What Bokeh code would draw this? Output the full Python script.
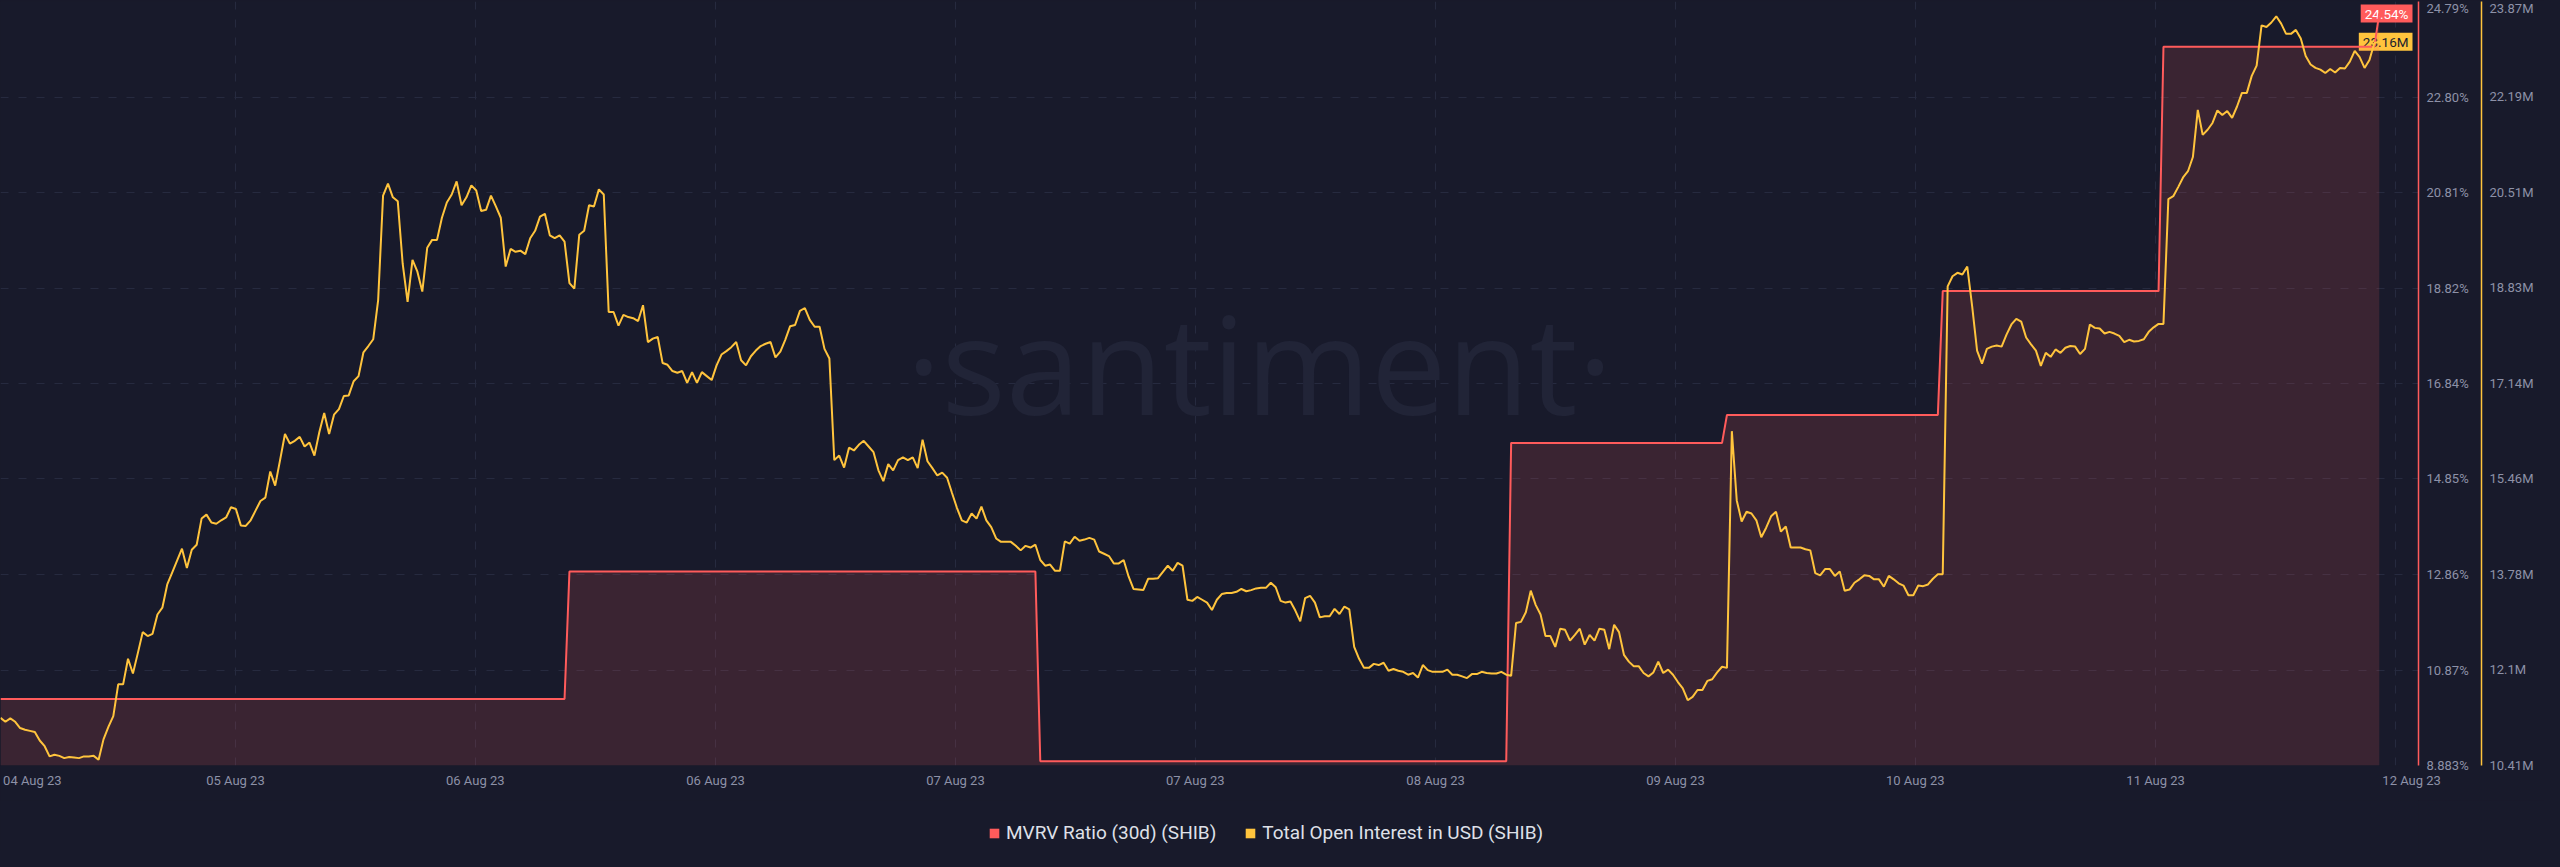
import math
from bokeh.plotting import figure
from bokeh.layouts import column
from bokeh.models import Range1d, LinearAxis, FixedTicker, Legend, LegendItem, Label
from bokeh.embed import file_html
from bokeh.resources import INLINE

BG = "#181a2b"
RED = "#ff5b5b"
YEL = "#ffc43d"
GRID = "#262a3f"
TICK_TXT = "#8d91a7"
FONT = "Roboto"

# ---------------- data ----------------
date_labels = ["04 Aug 23", "05 Aug 23", "06 Aug 23", "06 Aug 23", "07 Aug 23", "07 Aug 23",
               "08 Aug 23", "09 Aug 23", "10 Aug 23", "11 Aug 23", "12 Aug 23"]
date_label_pos = [6.5, 47.9, 96.8, 145.8, 194.7, 243.6, 292.6, 341.5, 390.4, 439.4, 491.6]
day_grid_pos = [47.9, 96.8, 145.8, 194.7, 243.6, 292.6, 341.5, 390.4, 439.4, 488.3]

# Total Open Interest in USD (SHIB), millions, one value per sample
oi_values = [
    11.25, 11.18, 11.24, 11.18, 11.07, 11.04, 11.02, 11.00, 10.85, 10.75,
    10.57, 10.60, 10.58, 10.54, 10.56, 10.55, 10.54, 10.57, 10.57, 10.58,
    10.51, 10.87, 11.09, 11.28, 11.84, 11.84, 12.29, 12.03, 12.39, 12.76,
    12.69, 12.73, 13.07, 13.19, 13.60, 13.81, 14.02, 14.23, 13.89, 14.21,
    14.30, 14.76, 14.83, 14.69, 14.67, 14.73, 14.78, 14.96, 14.93, 14.64,
    14.63, 14.73, 14.90, 15.07, 15.13, 15.59, 15.34, 15.79, 16.25, 16.08,
    16.13, 16.20, 16.03, 16.10, 15.87, 16.28, 16.62, 16.25, 16.59, 16.69,
    16.92, 16.93, 17.18, 17.27, 17.69, 17.80, 17.92, 18.61, 20.45, 20.66,
    20.42, 20.35, 19.25, 18.58, 19.32, 19.11, 18.76, 19.53, 19.67, 19.67,
    20.06, 20.33, 20.47, 20.70, 20.28, 20.42, 20.63, 20.54, 20.18, 20.20,
    20.45, 20.26, 20.06, 19.20, 19.51, 19.46, 19.48, 19.42, 19.70, 19.83,
    20.08, 20.13, 19.75, 19.70, 19.75, 19.64, 18.91, 18.81, 19.76, 19.83,
    20.28, 20.26, 20.56, 20.47,
    18.40, 18.40, 18.16, 18.35, 18.31, 18.29, 18.24, 18.52, 17.87, 17.93,
    17.96, 17.50, 17.47, 17.36, 17.33, 17.36, 17.15, 17.34, 17.15, 17.34,
    17.27, 17.20, 17.46, 17.65, 17.71, 17.78, 17.87, 17.55, 17.46, 17.62,
    17.72, 17.80, 17.84, 17.87, 17.60, 17.70, 17.91, 18.15, 18.17, 18.42,
    18.47, 18.26, 18.14, 18.14, 17.75, 17.58, 15.79, 15.87, 15.66, 16.01,
    15.96, 16.06, 16.13, 16.03, 15.93, 15.61, 15.42, 15.72, 15.61, 15.79,
    15.84, 15.79, 15.84, 15.65, 16.15, 15.77, 15.65, 15.52, 15.57, 15.48,
    15.21, 14.95, 14.73, 14.69, 14.85, 14.76, 14.97, 14.73, 14.61, 14.41,
    14.35, 14.35, 14.35, 14.28, 14.20, 14.28, 14.25, 14.30, 14.03, 13.93,
    13.95, 13.84, 13.84, 14.36, 14.32, 14.44, 14.37, 14.39, 14.42, 14.39,
    14.18, 14.14, 14.10, 13.97, 13.97, 14.03, 13.74, 13.52, 13.51, 13.50,
    13.70, 13.70, 13.71, 13.82, 13.93, 13.84, 13.98, 13.93, 13.33, 13.31,
    13.38, 13.33, 13.28,
    13.15, 13.33, 13.43, 13.45, 13.45, 13.47, 13.52, 13.48, 13.50, 13.53,
    13.54, 13.54, 13.63, 13.55, 13.31, 13.28, 13.30, 13.14, 12.95, 13.36,
    13.40, 13.28, 13.02, 13.04, 13.04, 13.17, 13.08, 13.21, 13.16, 12.50,
    12.29, 12.13, 12.13, 12.20, 12.18, 12.22, 12.08, 12.11, 12.08, 12.06,
    12.01, 12.04, 11.96, 12.18, 12.09, 12.06, 12.06, 12.06, 12.10, 12.01,
    12.01, 11.98, 11.95, 12.02, 12.02, 12.06, 12.04, 12.03, 12.03, 12.06,
    12.01, 11.99, 12.92, 12.94, 13.11, 13.49, 13.24, 13.07, 12.69, 12.69,
    12.50, 12.82, 12.80, 12.61, 12.71, 12.82, 12.54, 12.71, 12.61, 12.82,
    12.80, 12.46, 12.89, 12.76, 12.36, 12.24, 12.16, 12.16, 12.04, 11.98,
    12.05, 12.24, 12.04, 12.10, 12.01, 11.88, 11.77, 11.56, 11.62, 11.74,
    11.74, 11.90, 11.93, 12.05, 12.15, 12.13, 16.30, 15.08, 14.71, 14.88,
    14.85, 14.73, 14.43, 14.60, 14.80, 14.88, 14.53, 14.62, 14.25, 14.25,
    14.25, 14.22,
    14.20, 13.80, 13.76, 13.87, 13.87, 13.75, 13.83, 13.49, 13.51, 13.63,
    13.69, 13.76, 13.75, 13.69, 13.69, 13.56, 13.75, 13.69, 13.62, 13.58,
    13.41, 13.41, 13.58, 13.57, 13.60, 13.70, 13.78, 13.78, 18.85, 19.03,
    19.09, 19.06, 19.20, 18.50, 17.72, 17.49, 17.75, 17.79, 17.81, 17.79,
    18.00, 18.18, 18.28, 18.23, 17.95, 17.83, 17.72, 17.45, 17.68, 17.61,
    17.74, 17.68, 17.77, 17.80, 17.79, 17.66, 17.75, 18.18, 18.12, 18.11,
    18.02, 18.05, 18.02, 17.98, 17.87, 17.91, 17.88, 17.89, 17.92, 18.05,
    18.13, 18.19, 18.19, 20.39, 20.44, 20.60, 20.77, 20.88, 21.13, 21.96,
    21.52, 21.61, 21.73, 21.95, 21.87, 21.94, 21.82, 22.02, 22.26, 22.26,
    22.56, 22.74, 23.45, 23.42, 23.50, 23.61, 23.48, 23.30, 23.30, 23.37,
    23.22, 22.91, 22.76, 22.70, 22.67, 22.61, 22.68, 22.62, 22.70, 22.69,
    22.81, 23.00, 22.89, 22.70, 22.84, 23.14, 23.16,
]

# MVRV Ratio (30d) (SHIB), %: sample index where each new value starts, and the value
mvrv_change_idx = [0, 116, 212, 308, 352, 396, 441, 485]
mvrv_values = [10.27, 12.92, 8.97, 15.60, 16.18, 18.76, 23.85, 24.54]

mvrv_tick_labels = ["8.883%", "10.87%", "12.86%", "14.85%", "16.84%", "18.82%", "20.81%", "22.80%", "24.79%"]
oi_tick_labels = ["10.41M", "12.1M", "13.78M", "15.46M", "17.14M", "18.83M", "20.51M", "22.19M", "23.87M"]

series_names = ["MVRV Ratio (30d) (SHIB)", "Total Open Interest in USD (SHIB)"]

# ---------------- derived ----------------
mvrv_ticks = [float(s.rstrip("%")) for s in mvrv_tick_labels]
oi_ticks = [float(s.rstrip("M")) for s in oi_tick_labels]
oi_x = list(range(len(oi_values)))

mx, my = [], []
for k, (start, val) in enumerate(zip(mvrv_change_idx, mvrv_values)):
    end = mvrv_change_idx[k + 1] - 1 if k + 1 < len(mvrv_change_idx) else start
    mx += [start, end]
    my += [val, val]

# ---------------- main chart ----------------
W, H_MAIN, H_LEG = 2544, 800, 51
fig = figure(width=W, height=H_MAIN, output_backend="svg", toolbar_location=None, title=None, tools="",
             x_range=Range1d(0, 493), y_range=Range1d(mvrv_ticks[0], mvrv_ticks[-1]),
             y_axis_location="right",
             min_border_left=0, min_border_right=126, min_border_top=1, min_border_bottom=35,
             background_fill_color=BG, border_fill_color=BG, outline_line_color=None)
fig.extra_y_ranges = {"oi": Range1d(oi_ticks[0], oi_ticks[-1])}

try:
    from bokeh.models import GlobalInlineStyleSheet
    fig.stylesheets = [GlobalInlineStyleSheet(css="html, body { background-color: #181a2b; }")]
except Exception:
    pass

# grids
fig.xgrid[0].ticker = FixedTicker(ticks=day_grid_pos)
fig.ygrid[0].ticker = FixedTicker(ticks=mvrv_ticks)
for g in (fig.xgrid[0], fig.ygrid[0]):
    g.grid_line_color = GRID
    g.grid_line_dash = "8 10"
    g.grid_line_width = 1

# x axis
xa = fig.xaxis[0]
xa.ticker = FixedTicker(ticks=date_label_pos)
xa.major_label_overrides = {t: s for t, s in zip(date_label_pos, date_labels)}
xa.axis_line_color = None
xa.major_tick_line_color = None
xa.minor_tick_line_color = None
xa.major_tick_out = 0
xa.major_tick_in = 0
xa.major_label_standoff = 7
xa.major_label_text_font = FONT
xa.major_label_text_font_size = "13px"
xa.major_label_text_color = TICK_TXT

# red (MVRV) axis
ra = fig.yaxis[0]
ra.ticker = FixedTicker(ticks=mvrv_ticks)
ra.major_label_overrides = {t: s for t, s in zip(mvrv_ticks, mvrv_tick_labels)}
ra.axis_line_color = RED
ra.axis_line_width = 1.5
ra.major_tick_line_color = None
ra.minor_tick_line_color = None
ra.major_tick_out = 0
ra.major_tick_in = 0
ra.major_label_standoff = 8
ra.major_label_text_font = FONT
ra.major_label_text_font_size = "13px"
ra.major_label_text_color = TICK_TXT
ra.axis_label = " "
ra.axis_label_text_font_size = "6px"
ra.axis_label_standoff = 1

# yellow (OI) axis
ya = LinearAxis(y_range_name="oi", ticker=FixedTicker(ticks=oi_ticks),
                major_label_overrides={t: s for t, s in zip(oi_ticks, oi_tick_labels)},
                axis_line_color=YEL, axis_line_width=1.5,
                major_tick_line_color=None, minor_tick_line_color=None,
                major_tick_out=0, major_tick_in=0, major_label_standoff=8,
                major_label_text_font=FONT, major_label_text_font_size="13px",
                major_label_text_color=TICK_TXT)
fig.add_layout(ya, "right")

# watermark
fig.add_layout(Label(x=256.7, y=17.26, text="\u00b7santiment\u00b7",
                     text_font="'Liberation Sans Narrow', 'Open Sans', sans-serif",
                     text_font_size="135px", text_color="#212437",
                     text_align="center", text_baseline="alphabetic", level="underlay"))


def value_box(**kw):
    for extra in (dict(padding=dict(x=4, y=1)), dict(padding=1)):
        try:
            return Label(**extra, **kw)
        except Exception:
            continue
    return Label(**kw)


# last-value boxes at the right edge of the chart (drawn beneath the lines)
fig.add_layout(value_box(x=493, y=mvrv_values[-1], x_offset=-6, text=f"{mvrv_values[-1]:.2f}%",
                         text_align="right", text_baseline="middle", text_font=FONT,
                         text_font_size="13.5px", text_color="#ffffff",
                         background_fill_color=RED, level="underlay"))
fig.add_layout(value_box(x=493, y=oi_values[-1], y_range_name="oi", x_offset=-6,
                         text=f"{oi_values[-1]:.2f}M",
                         text_align="right", text_baseline="middle", text_font=FONT,
                         text_font_size="13.5px", text_color="#1b1d2e",
                         background_fill_color=YEL, level="underlay"))

# series
fig.varea(x=mx, y1=mvrv_ticks[0], y2=my, fill_color=RED, fill_alpha=0.15)
fig.line(mx, my, line_color=RED, line_width=2)
fig.line(oi_x, oi_values, y_range_name="oi", line_color=YEL, line_width=2)

# ---------------- legend strip ----------------
leg_fig = figure(width=W, height=H_LEG, output_backend="svg", toolbar_location=None, title=None, tools="",
                 x_range=Range1d(0, 1), y_range=Range1d(0, 1),
                 x_axis_location=None, y_axis_location=None,
                 min_border_left=0, min_border_right=0, min_border_top=0, min_border_bottom=0,
                 background_fill_color=BG, border_fill_color=BG, outline_line_color=None)
leg_fig.grid.visible = False
nan = [math.nan]
lr1 = leg_fig.quad(left=nan, right=nan, top=nan, bottom=nan, fill_color=RED, line_color=None)
lr2 = leg_fig.quad(left=nan, right=nan, top=nan, bottom=nan, fill_color=YEL, line_color=None)
legend = Legend(items=[LegendItem(label=series_names[0], renderers=[lr1]),
                       LegendItem(label=series_names[1], renderers=[lr2])],
                orientation="horizontal", location=(988, 7),
                glyph_width=12, glyph_height=12, label_standoff=6, spacing=28,
                padding=0, margin=0, label_text_font=FONT, label_text_font_size="19px",
                label_text_color="#dfe0e8", background_fill_alpha=0, border_line_color=None)
leg_fig.add_layout(legend)

p = column(fig, leg_fig, spacing=0)

open("out.html", "w").write(file_html(p, INLINE))
